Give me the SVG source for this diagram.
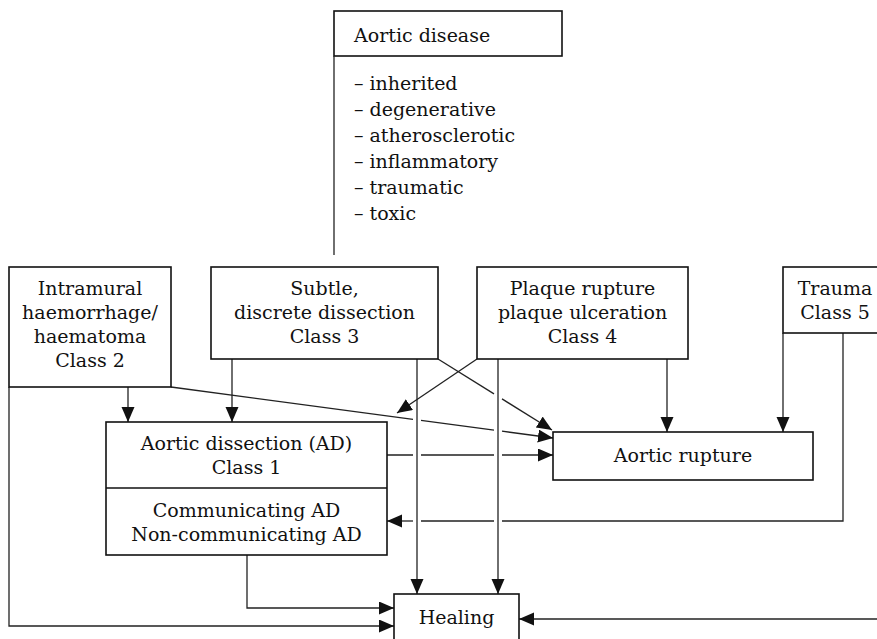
<svg xmlns="http://www.w3.org/2000/svg" width="877" height="639" viewBox="0 0 877 639">
<style>
text{font-family:"DejaVu Serif","Liberation Serif",serif;font-size:19px;fill:#111}
.c{text-anchor:middle}
.box{fill:#fff;stroke:#111;stroke-width:1.6}
.ln{fill:none;stroke:#222;stroke-width:1.3}
</style>
<defs>
<marker id="ah" markerUnits="userSpaceOnUse" markerWidth="16" markerHeight="14" refX="15" refY="6.5" orient="auto">
<path d="M0,0 L15,6.5 L0,13 z" fill="#111"/>
</marker>
</defs>
<rect width="877" height="639" fill="#fff"/>
<g id="connectors">
<path class="ln" d="M128,387 V422" marker-end="url(#ah)"/>
<path class="ln" d="M232,359 V422" marker-end="url(#ah)"/>
<path class="ln" d="M171,387 L413,419.3 M421,420.4 L494,430.1"/>
<path class="ln" d="M502,431.2 L553,438" marker-end="url(#ah)"/>
<path class="ln" d="M438,359 L494,393.9"/>
<path class="ln" d="M502,398.9 L552,430" marker-end="url(#ah)"/>
<path class="ln" d="M417,359 V594" marker-end="url(#ah)"/>
<path class="ln" d="M477,359 L397,413" marker-end="url(#ah)"/>
<path class="ln" d="M498,359 V594" marker-end="url(#ah)"/>
<path class="ln" d="M667,359 V432" marker-end="url(#ah)"/>
<path class="ln" d="M783,333 V432" marker-end="url(#ah)"/>
<path class="ln" d="M843,333 V521 H502 M494,521 H421"/>
<path class="ln" d="M413,521 H387" marker-end="url(#ah)"/>
<path class="ln" d="M387,455 H413 M421,455 H494"/>
<path class="ln" d="M502,455 H553" marker-end="url(#ah)"/>
<path class="ln" d="M247,555 V608 H394" marker-end="url(#ah)"/>
<path class="ln" d="M9,387 V626 H394" marker-end="url(#ah)"/>
<path class="ln" d="M877,619 H519" marker-end="url(#ah)"/>
</g>
<g id="aortic-disease">
<rect class="box" x="334" y="11" width="228" height="45"/>
<path class="ln" d="M334,56 V255"/>
<text x="354" y="42">Aortic disease</text>
<text x="354" y="90">– inherited</text>
<text x="354" y="116">– degenerative</text>
<text x="354" y="142">– atherosclerotic</text>
<text x="354" y="168">– inflammatory</text>
<text x="354" y="194">– traumatic</text>
<text x="354" y="220">– toxic</text>
</g>
<g id="intramural">
<rect class="box" x="9" y="267" width="162" height="120"/>
<text class="c" x="90" y="295">Intramural</text>
<text class="c" x="90" y="319">haemorrhage/</text>
<text class="c" x="90" y="343">haematoma</text>
<text class="c" x="90" y="367">Class 2</text>
</g>
<g id="subtle">
<rect class="box" x="211" y="267" width="227" height="92"/>
<text class="c" x="324.5" y="295">Subtle,</text>
<text class="c" x="324.5" y="319">discrete dissection</text>
<text class="c" x="324.5" y="343">Class 3</text>
</g>
<g id="plaque">
<rect class="box" x="477" y="267" width="211" height="92"/>
<text class="c" x="582.5" y="295">Plaque rupture</text>
<text class="c" x="582.5" y="319">plaque ulceration</text>
<text class="c" x="582.5" y="343">Class 4</text>
</g>
<g id="trauma">
<rect class="box" x="783" y="267" width="110" height="66"/>
<text class="c" x="835" y="295">Trauma</text>
<text class="c" x="835" y="319">Class 5</text>
</g>
<g id="aortic-dissection">
<rect class="box" x="106" y="422" width="281" height="133"/>
<path class="box" d="M106,488 H387"/>
<text class="c" x="246.5" y="450">Aortic dissection (AD)</text>
<text class="c" x="246.5" y="474">Class 1</text>
<text class="c" x="246.5" y="517">Communicating AD</text>
<text class="c" x="246.5" y="541">Non-communicating AD</text>
</g>
<g id="aortic-rupture">
<rect class="box" x="553" y="432" width="260" height="48"/>
<text class="c" x="683" y="462">Aortic rupture</text>
</g>
<g id="healing">
<rect class="box" x="394" y="594" width="125" height="46"/>
<text class="c" x="456.5" y="624">Healing</text>
</g>
</svg>
